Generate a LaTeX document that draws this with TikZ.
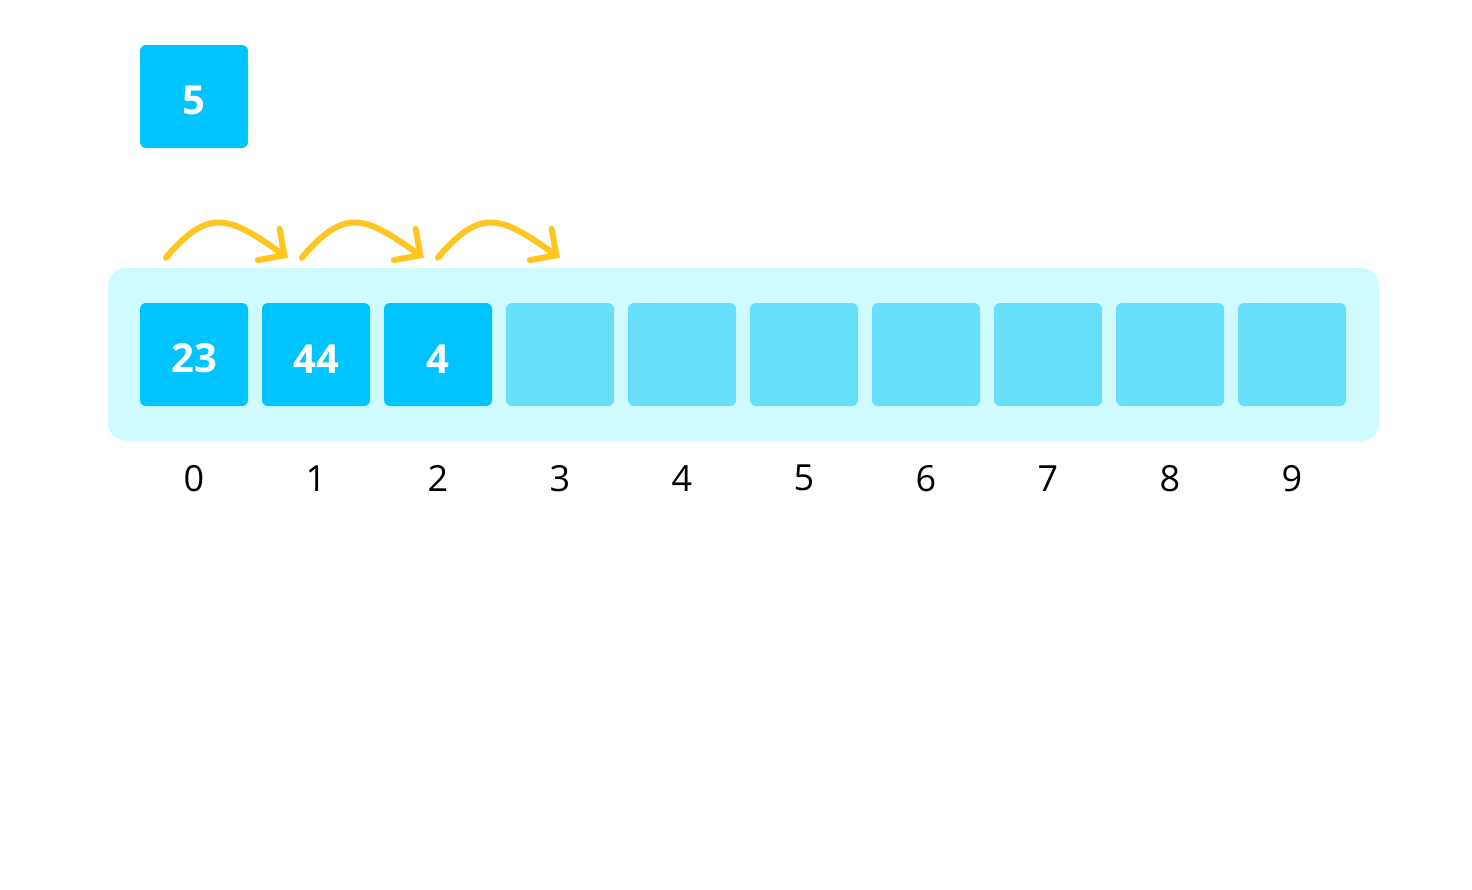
\documentclass[tikz,border=0pt]{standalone}
\usepackage{fontspec}
\setmainfont{Open Sans}
\usetikzlibrary{arrows.meta,positioning}
\definecolor{cellblue}{HTML}{00C4FF}
\definecolor{cellpale}{HTML}{67DFFB}
\definecolor{trayblue}{HTML}{CFFAFE}
\definecolor{hopyellow}{HTML}{FFC622}

\begin{document}
\begin{tikzpicture}[x=1pt,y=1pt,
  cell/.style={minimum width=108pt,minimum height=103pt,inner sep=0pt,
    rounded corners=6pt,fill=cellblue,text=white,text height=37pt,
    font=\fontsize{40}{48}\selectfont\bfseries},
  emptycell/.style={cell,fill=cellpale},
  index/.style={font=\fontsize{36}{42}\selectfont},
  hop/.style={hopyellow,line width=6pt,line cap=round,
    -{Straight Barb[length=19pt,width=38pt,line cap=round]}}]
\useasboundingbox (0,0) rectangle (1472,-889);
% tray
\node[fill=trayblue,rounded corners=18pt,inner sep=0pt,
  minimum width=1271pt,minimum height=173pt] (tray) at (743.5,-354.5) {};
% value to insert
\node[cell] (val) at (194,-96.5) {5};
% cells
\foreach \i/\v in {0/23,1/44,2/4}
  \node[cell] (c\i) at (194+122*\i,-354.5) {\v};
\foreach \i in {3,...,9}
  \node[emptycell] (c\i) at (194+122*\i,-354.5) {};
% indices
\foreach \i in {0,...,9}
  \node[index] (n\i) at ([yshift=-72pt]c\i.south) {\i};
% shifts
\foreach \i [evaluate=\i as \j using int(\i+1),
             evaluate=\i as \d using 26+14*\i] in {0,1,2}
  \draw[hop] ([xshift=\d pt,yshift=45pt]c\i.north west)
    to[out=50,in=145,looseness=1.45] ([xshift=\d pt,yshift=45pt]c\j.north west);
\end{tikzpicture}
\end{document}
